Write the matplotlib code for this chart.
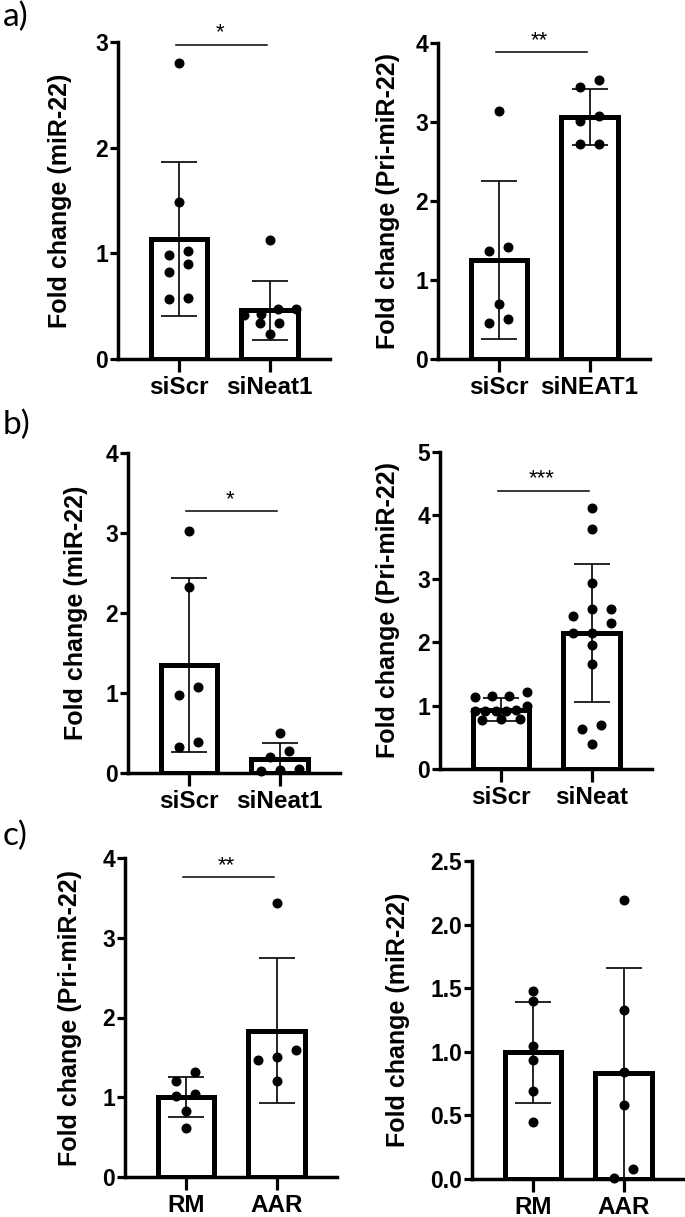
#!/usr/bin/env python3
"""Fold change di miR-22 / Pri-miR-22: pannelli a), b), c) in stile GraphPad."""

import matplotlib
matplotlib.use("Agg")
import matplotlib.pyplot as plt


plt.rcParams["font.family"] = ["Liberation Sans", "DejaVu Sans"]
plt.rcParams["font.weight"] = "bold"

# ---- dati ----
a1_groups = ["siScr", "siNeat1"]
a1_mean = [1.135, 0.46]
a1_sd = [0.73, 0.28]
a1_scr = [2.80, 1.49, 0.98, 1.02, 0.90, 0.82, 0.57, 0.58]
a1_neat = [1.13, 0.43, 0.47, 0.47, 0.42, 0.34, 0.34, 0.24]

a2_groups = ["siScr", "siNEAT1"]
a2_mean = [1.25, 3.06]
a2_sd = [1.00, 0.35]
a2_scr = [3.13, 1.37, 1.42, 0.70, 0.45, 0.51]
a2_neat = [3.53, 3.44, 3.01, 3.07, 2.72, 2.72]

b1_groups = ["siScr", "siNeat1"]
b1_mean = [1.35, 0.17]
b1_sd = [1.09, 0.20]
b1_scr = [3.02, 2.33, 0.97, 1.08, 0.33, 0.39]
b1_neat = [0.50, 0.20, 0.28, 0.03, 0.05, 0.04]

b2_groups = ["siScr", "siNeat"]
b2_mean = [0.934, 2.14]
b2_sd = [0.18, 1.09]
b2_scr = [1.21, 1.15, 1.15, 1.14, 1.00, 0.93, 0.91, 0.91, 0.92, 0.91, 0.79, 0.79, 0.77]
b2_neat = [4.11, 3.79, 2.94, 2.52, 2.52, 2.41, 2.30, 2.15, 2.15, 1.95, 1.65, 0.63, 0.70, 0.39]

c1_groups = ["RM", "AAR"]
c1_mean = [1.00, 1.835]
c1_sd = [0.25, 0.91]
c1_rm = [1.32, 1.21, 1.01, 1.04, 0.83, 0.61]
c1_aar = [3.44, 1.59, 1.47, 1.51, 1.21]

c2_groups = ["RM", "AAR"]
c2_mean = [0.995, 0.83]
c2_sd = [0.40, 0.83]
c2_rm = [1.48, 1.40, 1.045, 0.935, 0.69, 0.45]
c2_aar = [2.19, 1.33, 0.84, 0.58, 0.005, 0.08]

W, H = 685, 1217
XLIM = (-0.67, 1.665)
AX_W = 212


def swarm_offsets(values, ypx, xpx, row_px=10, step_px=19, max_px=52):
    # raggruppa i punti vicini in righe e li distribuisce in orizzontale
    order = sorted(range(len(values)), key=lambda i: -values[i])
    rows = []
    for i in order:
        if rows and (values[rows[-1][0]] - values[i]) * ypx < row_px:
            rows[-1].append(i)
        else:
            rows.append([i])
    offs = [0.0] * len(values)
    for row in rows:
        row = sorted(row, key=lambda i: values[i])
        n = len(row)
        step = step_px if n < 2 else min(step_px, max_px / (n - 1))
        for k, i in enumerate(row):
            offs[i] = (k - (n - 1) / 2) * step / xpx
    return offs


def panel(x0, ytop, ybot, groups, means, sds, points, yticks, ylabel,
          label_off, sig=None, stars="", ticklabels=None):
    ax = fig.add_axes([x0 / W, 1 - ybot / H, AX_W / W, (ybot - ytop) / H])
    ymax = yticks[-1]
    ax.set_xlim(*XLIM)
    ax.set_ylim(0, ymax)
    xs = list(range(len(groups)))

    ax.bar(xs, means, width=0.62, color="white", edgecolor="black",
           linewidth=3.6, zorder=2)
    ax.errorbar(xs, means, yerr=sds, fmt="none", ecolor="black",
                elinewidth=1.2, capsize=13, capthick=1.2, zorder=3)

    ypx = (ybot - ytop) / ymax
    xpx = AX_W / (XLIM[1] - XLIM[0])
    for x, vals in zip(xs, points):
        offs = swarm_offsets(vals, ypx, xpx)
        ax.plot([x + o for o in offs], vals, "o", color="black",
                markersize=6.2, zorder=4, clip_on=False)

    if sig is not None:
        ax.plot([-0.03, 0.97], [sig, sig], color="black", lw=1.1, zorder=3)
        ax.annotate(stars, xy=(0.45, sig), xytext=(0, 1), textcoords="offset points",
                    ha="center", va="bottom", fontsize=16, fontweight="normal")

    ax.spines["top"].set_visible(False)
    ax.spines["right"].set_visible(False)
    for s in ("left", "bottom"):
        ax.spines[s].set_linewidth(2.5)
    ax.set_yticks(yticks)
    if ticklabels is not None:
        ax.set_yticklabels(ticklabels)
    ax.set_xticks(xs)
    ax.set_xticklabels(groups)
    ax.tick_params(axis="y", length=6, width=2.3, labelsize=16.5, pad=1)
    ax.tick_params(axis="x", length=9, width=2.3, labelsize=17.5, pad=3)
    ax.set_ylabel(ylabel, fontsize=18, fontweight="bold")
    ax.yaxis.set_label_coords(-label_off / AX_W, 0.5)
    return ax


fig = plt.figure(figsize=(W / 100, H / 100), dpi=100)

panel(118, 42, 359, a1_groups, a1_mean, a1_sd, [a1_scr, a1_neat],
      [0, 1, 2, 3], "Fold change (miR-22)", 46, sig=2.975, stars="*")
panel(438, 42.7, 359, a2_groups, a2_mean, a2_sd, [a2_scr, a2_neat],
      [0, 1, 2, 3, 4], "Fold change (Pri-miR-22)", 38, sig=3.88, stars="**")
panel(128, 453, 773, b1_groups, b1_mean, b1_sd, [b1_scr, b1_neat],
      [0, 1, 2, 3, 4], "Fold change (miR-22)", 40, sig=3.27, stars="*")
panel(440, 452, 769, b2_groups, b2_mean, b2_sd, [b2_scr, b2_neat],
      [0, 1, 2, 3, 4, 5], "Fold change (Pri-miR-22)", 40, sig=4.39, stars="***")
panel(125, 858, 1177, c1_groups, c1_mean, c1_sd, [c1_rm, c1_aar],
      [0, 1, 2, 3, 4], "Fold change (Pri-miR-22)", 43, sig=3.76, stars="**")
panel(472, 861, 1179, c2_groups, c2_mean, c2_sd, [c2_rm, c2_aar],
      [0, 0.5, 1.0, 1.5, 2.0, 2.5], "Fold change (miR-22)", 62,
      ticklabels=["0.0", "0.5", "1.0", "1.5", "2.0", "2.5"])

for letter, ytop in [("a)", 2), ("b)", 410), ("c)", 821)]:
    fig.text(3 / W, 1 - ytop / H, letter, ha="left", va="top",
             fontsize=24, fontweight="normal", family=["Lato", "DejaVu Sans"])

fig.savefig("out.png", dpi=100)
plt.close(fig)
